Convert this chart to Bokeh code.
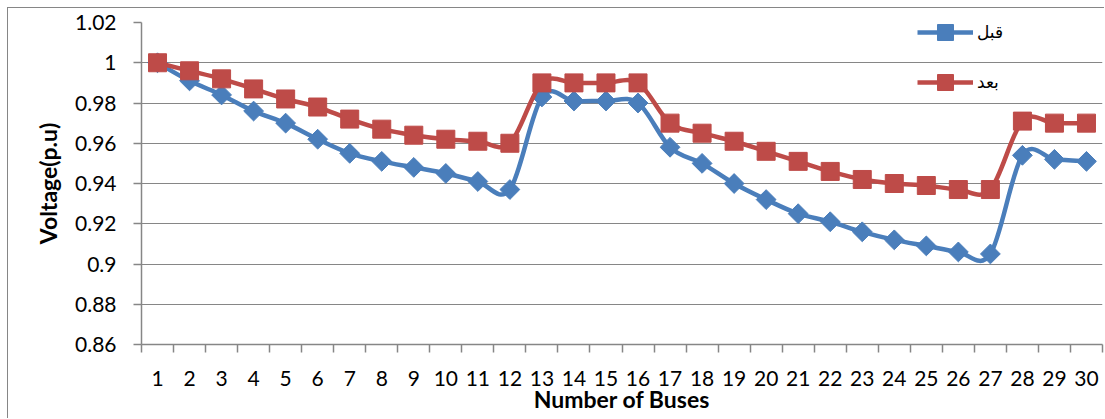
import math

from bokeh.embed import file_html
from bokeh.models import (ColumnDataSource, FixedTicker, Legend, LegendItem,
                          NumeralTickFormatter, Range1d)
from bokeh.plotting import figure
from bokeh.resources import INLINE

# Bus numbers and per-unit voltage profiles
buses = list(range(1, 31))
before = [1.000, 0.991, 0.984, 0.976, 0.970, 0.962, 0.955, 0.951, 0.948, 0.945,
          0.941, 0.937, 0.983, 0.981, 0.981, 0.980, 0.958, 0.950, 0.940, 0.932,
          0.925, 0.921, 0.916, 0.912, 0.909, 0.906, 0.905, 0.954, 0.952, 0.951]
after = [1.000, 0.996, 0.992, 0.987, 0.982, 0.978, 0.972, 0.967, 0.964, 0.962,
         0.961, 0.960, 0.990, 0.990, 0.990, 0.990, 0.970, 0.965, 0.961, 0.956,
         0.951, 0.946, 0.942, 0.940, 0.939, 0.937, 0.937, 0.971, 0.970, 0.970]
y_ticks = [0.86, 0.88, 0.90, 0.92, 0.94, 0.96, 0.98, 1.00, 1.02]
series_names = ["قبل", "بعد"]

BLUE = "#4A7EBB"
RED = "#BE4B48"
GRID = "#868686"
FONT = "Lato"


def smooth_source(x, y):
    """Cubic Bezier segments (Catmull-Rom style) through the points."""
    n = len(x)
    cols = {k: [] for k in ("x0", "y0", "x1", "y1", "cx0", "cy0", "cx1", "cy1")}
    for i in range(n - 1):
        xp, yp = (x[i - 1], y[i - 1]) if i > 0 else (x[i], y[i])
        xn, yn = (x[i + 2], y[i + 2]) if i + 2 < n else (x[i + 1], y[i + 1])
        cols["x0"].append(x[i])
        cols["y0"].append(y[i])
        cols["x1"].append(x[i + 1])
        cols["y1"].append(y[i + 1])
        cols["cx0"].append(x[i] + (x[i + 1] - xp) / 6)
        cols["cy0"].append(y[i] + (y[i + 1] - yp) / 6)
        cols["cx1"].append(x[i + 1] - (xn - x[i]) / 6)
        cols["cy1"].append(y[i + 1] - (yn - y[i]) / 6)
    return ColumnDataSource(cols)


p = figure(width=1097, height=411, output_backend="svg", toolbar_location=None,
           x_range=Range1d(0.5, 30.5), y_range=Range1d(0.86, 1.02),
           min_border_left=133, min_border_right=3, min_border_top=14,
           min_border_bottom=75)
p.styles = {"border-left": f"1px solid {GRID}", "border-top": f"1px solid {GRID}",
            "margin-left": "7px", "margin-top": "7px"}
p.outline_line_color = None
p.background_fill_color = "white"
p.border_fill_color = "white"

# Axes
p.xaxis.ticker = FixedTicker(ticks=buses, minor_ticks=[b - 0.5 for b in buses] + [30.5])
p.xaxis.major_tick_out = 0
p.xaxis.major_tick_in = 0
p.xaxis.minor_tick_out = 8
p.xaxis.minor_tick_in = 0
p.xaxis.minor_tick_line_color = GRID
p.xaxis.minor_tick_line_width = 1.5
p.xaxis.major_label_standoff = 18
p.xaxis.axis_label = "Number of Buses"
p.xaxis.axis_label_standoff = -4

p.yaxis.ticker = FixedTicker(ticks=y_ticks)
p.yaxis.formatter = NumeralTickFormatter(format="0.[00]")
p.yaxis.major_tick_out = 8
p.yaxis.major_tick_in = 0
p.yaxis.minor_tick_out = 0
p.yaxis.minor_tick_in = 0
p.yaxis.major_label_standoff = 17
p.yaxis.axis_label = "Voltage(p.u)"
p.yaxis.axis_label_standoff = 10

for ax in (p.xaxis, p.yaxis):
    ax.axis_line_color = GRID
    ax.axis_line_width = 1.5
    ax.major_tick_line_color = GRID
    ax.major_tick_line_width = 1.5
    ax.major_label_text_font = FONT
    ax.major_label_text_font_size = "21px"
    ax.major_label_text_color = "black"
    ax.axis_label_text_font = FONT
    ax.axis_label_text_font_size = "23px"
    ax.axis_label_text_font_style = "bold"
    ax.axis_label_text_color = "black"

p.xgrid.grid_line_color = None
p.ygrid.grid_line_color = GRID
p.ygrid.grid_line_width = 1.2

# Series: smoothed lines with markers
pts_before = ColumnDataSource(dict(x=buses, y=before))
pts_after = ColumnDataSource(dict(x=buses, y=after))

bl = p.bezier("x0", "y0", "x1", "y1", "cx0", "cy0", "cx1", "cy1",
              source=smooth_source(buses, before), line_color=BLUE, line_width=4.5)
bm = p.scatter("x", "y", source=pts_before, marker="square", size=14,
               angle=math.pi / 4, fill_color=BLUE, line_color=BLUE)
rl = p.bezier("x0", "y0", "x1", "y1", "cx0", "cy0", "cx1", "cy1",
              source=smooth_source(buses, after), line_color=RED, line_width=4.5)
rm = p.scatter("x", "y", source=pts_after, marker="square", size=18,
               fill_color=RED, line_color=RED)

legend = Legend(items=[LegendItem(label=series_names[0], renderers=[bl, bm]),
                       LegendItem(label=series_names[1], renderers=[rl, rm])],
                location=(776, 242), orientation="vertical",
                padding=0, margin=0, spacing=10,
                glyph_width=56, glyph_height=40, label_height=20,
                label_standoff=4, border_line_color=None,
                background_fill_alpha=0,
                label_text_font="DejaVu Sans", label_text_font_size="17px",
                label_text_color="black")
p.add_layout(legend)

open("out.html", "w").write(file_html(p, INLINE))
